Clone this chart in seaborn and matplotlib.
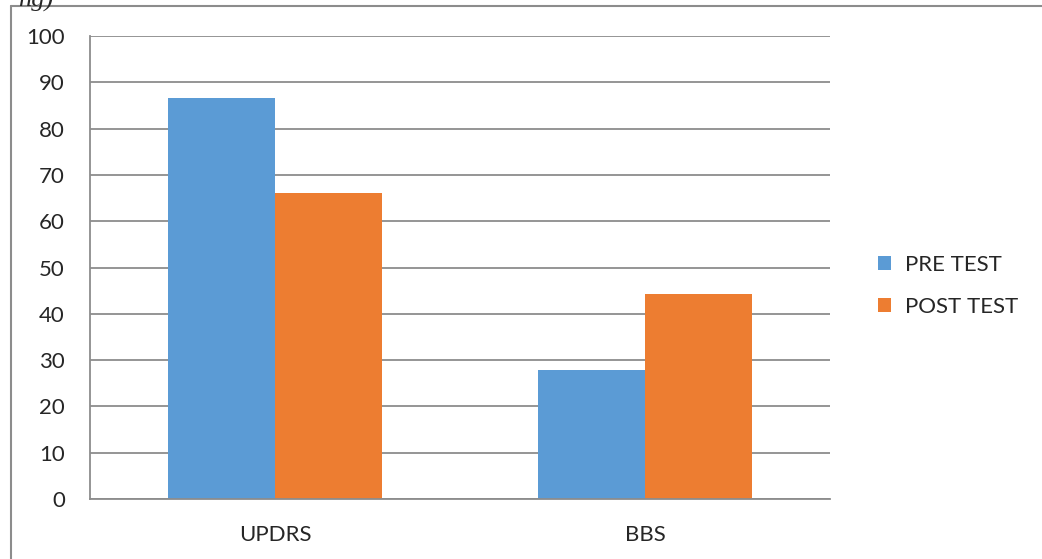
import matplotlib
matplotlib.use("Agg")
import matplotlib.pyplot as plt
from matplotlib.lines import Line2D
from matplotlib.patches import Patch
import seaborn as sns
import pandas as pd

categories = ["UPDRS", "BBS"]
series = ["PRE TEST", "POST TEST"]
pre_test = [86.6, 27.9]
post_test = [66.0, 44.3]
yticks = [0, 10, 20, 30, 40, 50, 60, 70, 80, 90, 100]

colors = ["#5B9BD5", "#ED7D31"]
grid_c = "#8c8c8c"

df = pd.DataFrame({
    "cat": categories * 2,
    "series": [series[0]] * len(categories) + [series[1]] * len(categories),
    "value": pre_test + post_test,
})

sns.set_style("white")
plt.rcParams["font.family"] = ["Lato", "DejaVu Sans"]

W, H = 1042, 559
fig = plt.figure(figsize=(W / 100, H / 100), dpi=100)
ax = fig.add_axes([90 / W, 1 - 499 / H, 740 / W, 463 / H])

sns.barplot(data=df, x="cat", y="value", hue="series", order=categories,
            hue_order=series, palette=colors, width=0.576, saturation=1,
            ax=ax, legend=False, errorbar=None)

ax.set_xlim(-0.5, 1.5)
ax.set_ylim(0, 100)
ax.set_yticks(yticks)
ax.set_xlabel("")
ax.set_ylabel("")
ax.yaxis.grid(True, color=grid_c, linewidth=1.3)
ax.set_axisbelow(True)
for s in ["top", "right"]:
    ax.spines[s].set_visible(False)
for s in ["left", "bottom"]:
    ax.spines[s].set_color(grid_c)
    ax.spines[s].set_linewidth(1.3)

ax.set_xticks([0, 1])
ax.set_xticklabels(categories)
ax.set_xticks([-0.5, 0.5, 1.5], minor=True)
ax.tick_params(axis="x", which="major", length=0, labelsize=16, pad=19)
ax.tick_params(axis="x", which="minor", length=7, width=1.3, color=grid_c, direction="out")
ax.tick_params(axis="y", length=7, width=1.3, color=grid_c, direction="out", labelsize=16, pad=11)
for b in ax.patches:
    b.set_edgecolor("none")

handles = [Patch(facecolor=c, edgecolor="none") for c in colors]
fig.legend(handles, series, loc="center left", bbox_to_anchor=(858 / W, 1 - 286 / H),
           frameon=False, fontsize=16, handlelength=0.6, handleheight=0.6,
           handletextpad=0.6, labelspacing=1.0)

fig.add_artist(Line2D([11 / W, 1.0], [1 - 6 / H, 1 - 6 / H], transform=fig.transFigure,
                      color=grid_c, linewidth=1.5))
fig.add_artist(Line2D([11 / W, 11 / W], [0, 1 - 6 / H], transform=fig.transFigure,
                      color=grid_c, linewidth=1.5))
fig.text(18 / W, 1.0, "ng)", fontsize=19, family="Liberation Serif", style="italic",
         va="center", ha="left")

fig.savefig("out.png", dpi=100)
